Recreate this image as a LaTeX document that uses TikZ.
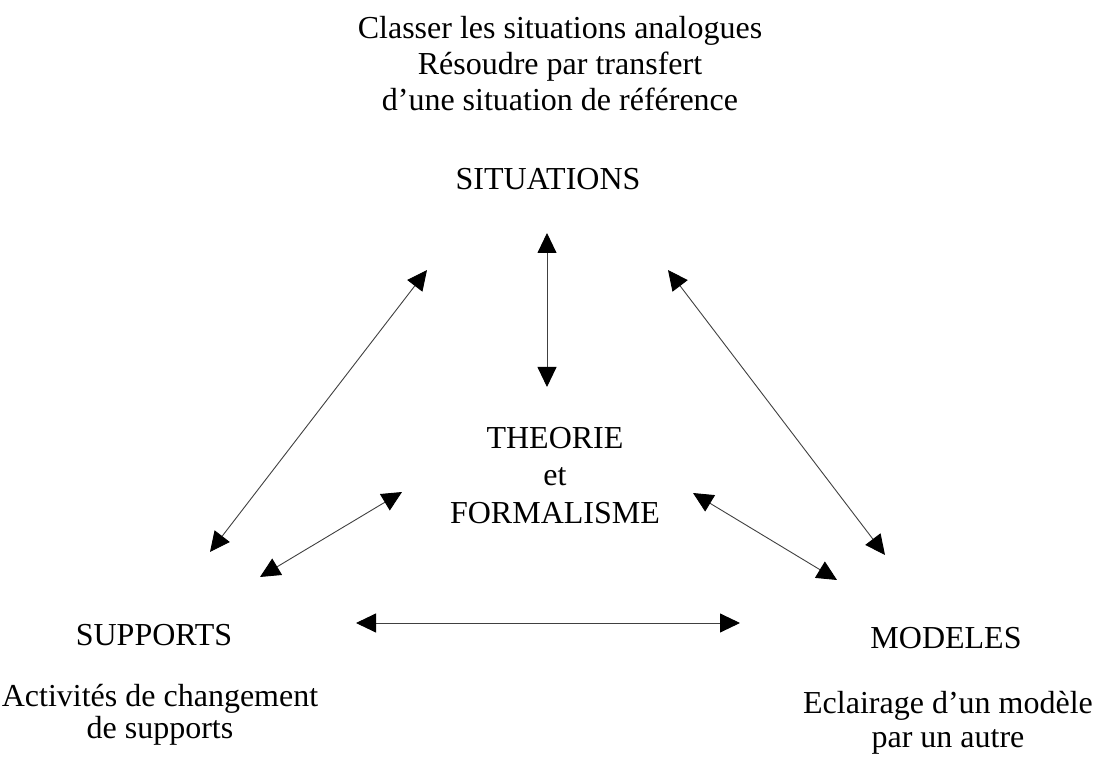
\documentclass[tikz,border=0pt]{standalone}
\usepackage{fontspec}
\setmainfont{Liberation Serif}
\usetikzlibrary{arrows.meta}
\newcommand{\topstrut}{\rule{0pt}{30pt}}
\begin{document}
\begin{tikzpicture}[x=1pt,y=-1pt,
  lbl/.style={font=\fontsize{32}{#1}\selectfont, align=center, inner sep=0pt, anchor=north},
  lbl/.default=36,
  one/.style={font=\fontsize{32}{36}\selectfont, inner sep=0pt, anchor=base},
  tipstyle/.style={},
  dbl/.style={{Triangle[length=20pt,width=19pt,color=black]}-{Triangle[length=20pt,width=19pt,color=black]}, line width=0.9pt, draw=black!75}
]
\useasboundingbox (0,0) rectangle (1104,767);
% text blocks: north = first baseline - 30
\node[lbl=36] (top) at (560,8) {\topstrut Classer les situations analogues\\Résoudre par transfert\\d’une situation de référence};
\node[one] (sit) at (548,190) {SITUATIONS};
\node[lbl=37.5] (theo) at (555,418) {\topstrut THEORIE\\et\\FORMALISME};
\node[one] (sup) at (154,645) {SUPPORTS};
\node[one] (mod) at (946,648) {MODELES};
\node[lbl=32] (act) at (160,676) {\topstrut Activités de changement\\de supports};
\node[lbl=34] (ecl) at (948,683) {\topstrut Eclairage d’un modèle\\par un autre};
% arrow tips
\coordinate (vA) at (547,233);
\coordinate (vB) at (547,387);
\coordinate (lA) at (427,270);
\coordinate (lB) at (210,552);
\coordinate (lsA) at (402,492);
\coordinate (lsB) at (260,577);
\coordinate (rA) at (668,270);
\coordinate (rB) at (885,555);
\coordinate (rsA) at (693,493);
\coordinate (rsB) at (837,580);
\coordinate (hA) at (356,623);
\coordinate (hB) at (740,623);
\draw[dbl] (vA) -- (vB);
\draw[dbl] (lA) -- (lB);
\draw[dbl] (lsA) -- (lsB);
\draw[dbl] (rA) -- (rB);
\draw[dbl] (rsA) -- (rsB);
\draw[dbl] (hA) -- (hB);
\end{tikzpicture}
\end{document}
